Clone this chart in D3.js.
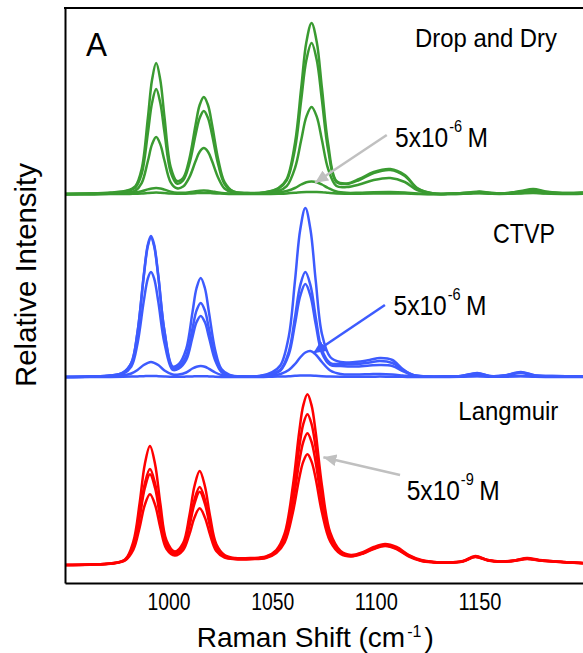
<!DOCTYPE html>
<html>
<head>
<meta charset="utf-8">
<script src="https://cdn.jsdelivr.net/npm/d3@7"></script>
<style>
  html, body { margin: 0; padding: 0; background: #fff; }
  svg { display: block; }
</style>
</head>
<body>
<script>
// Stacked Raman spectra: Drop and Dry / CTVP / Langmuir

// Drop and Dry (green) - wavenumbers and intensities (a.u., above own baseline)
const greenShift = [950, 962, 972, 980, 984, 987, 990, 992, 994, 996, 998, 1001, 1004, 1007, 1010, 1013, 1015, 1017, 1019, 1021, 1024, 1027, 1031, 1038, 1046, 1053, 1057, 1061, 1064, 1066.5, 1069, 1071.5, 1074, 1077, 1081, 1086, 1092, 1099, 1107, 1114, 1120, 1128, 1137, 1145, 1150, 1156, 1164, 1170, 1176, 1182, 1190, 1200];
const dropDry = [
  [0, 0.5, 1.5, 3.5, 8, 25, 76, 114, 131, 114, 77, 27, 13, 16, 35, 69, 89, 97, 89, 69, 34, 12, 3, 1, 1.5, 6, 15, 51, 106, 152, 171, 152, 106, 50, 13, 10.5, 15, 22, 25, 19, 6, 0.5, 0.5, 1.5, 2.5, 1, 1, 3, 5, 2.5, 1, 1.5],
  [0, 0.5, 1, 3, 6.5, 20, 61, 91, 105, 91, 62, 22, 10.5, 13.5, 30, 59, 76, 83, 76, 59, 29, 10, 2.5, 1, 1.5, 5.3, 13.6, 45, 94, 134, 151, 134, 94, 44, 12, 10, 14, 21, 24, 18, 5.5, 0.5, 0.5, 1.2, 2, 1, 1, 2.5, 4, 2, 1, 1.2],
  [0, 0.3, 0.8, 1.5, 3.4, 10.8, 33, 49.6, 57, 49.6, 33.5, 11.7, 5.7, 7.4, 16.6, 32.7, 42.3, 46, 42.3, 32.7, 16, 5.5, 1.5, 0.5, 1, 3, 7.8, 26, 54, 77.4, 87, 77.4, 54, 25, 8, 7, 9.5, 14, 16, 12, 4, 0.3, 0.3, 1, 1.5, 0.6, 0.6, 2, 3, 1.5, 0.6, 1],
  [0, 0, 0.3, 0.8, 1.5, 2.8, 4.6, 5.6, 6, 5.6, 4.4, 2.4, 1.3, 1.2, 1.8, 2.8, 3.3, 3.5, 3.3, 2.6, 1.5, 0.7, 0.3, 0.2, 0.5, 1.5, 3, 6, 9.5, 11.8, 12.5, 11.8, 9.5, 6, 2.5, 1.2, 1.3, 1.8, 2, 1.5, 0.5, 0, 0, 0.5, 1, 0.3, 0.3, 1, 1.5, 0.7, 0.3, 0.6],
  [-0.5, -0.5, 0, 0, 0.3, 0.5, 1, 1.3, 1.5, 1.3, 1, 0.5, 0.3, 0.3, 0.5, 0.8, 1, 1, 1, 0.8, 0.5, 0.2, 0, 0, 0, 0.3, 0.6, 1.2, 1.8, 2, 2, 2, 1.8, 1.2, 0.5, 0.3, 0.3, 0.5, 0.6, 0.4, 0, -0.3, 0, 0.5, 0.8, 0.2, 0.2, 0.6, 1, 0.4, 0, 0.3]
];

// CTVP (blue)
const blueShift = [950, 962, 972, 978, 982, 985, 988, 990, 991.5, 993, 995, 998, 1002, 1005, 1008.5, 1011.5, 1013.5, 1015.5, 1017.5, 1019.5, 1022.5, 1025.5, 1029.5, 1036, 1044, 1050, 1054, 1058, 1061, 1063.5, 1066, 1068.5, 1071, 1074, 1078, 1083, 1090, 1097, 1102, 1108, 1113, 1118, 1125, 1133, 1141, 1149, 1155, 1162, 1170, 1177, 1185, 1200];
const ctvp = [
  [0, 0.5, 1.5, 4.5, 14, 45, 101.5, 132.5, 141, 132.5, 102, 46, 10.5, 13, 28, 64.4, 89, 99, 89, 64.4, 26.7, 8, 2, 0.5, 1, 5, 11.8, 40.6, 96.3, 147, 169, 147, 96.3, 43, 20, 15, 15, 17, 19, 17, 8, 2, 0.5, 0.5, 1, 4, 1, 1.5, 5, 1.5, 1, 0.5],
  [0, 0.5, 1.5, 4.4, 14, 44.6, 100.4, 131, 139.5, 131, 100.8, 45.5, 9, 10.5, 21, 48.1, 66.6, 74, 66.6, 48.1, 20, 6, 1.5, 0.5, 1, 3.2, 7.4, 25.2, 59.9, 91.4, 105, 91.4, 59.9, 27, 14, 13, 13, 14.5, 16, 14, 7, 2, 0.5, 0.5, 1, 3.5, 1, 1.5, 4.5, 1.5, 1, 0.5],
  [0, 0.4, 1.2, 3.2, 10.5, 33.6, 75.6, 98.7, 105, 98.7, 75.6, 34, 7, 8.5, 17, 39.7, 54.9, 61, 54.9, 39.7, 16.5, 5, 1.2, 0.4, 0.8, 2.8, 6.5, 22.3, 53, 80.9, 93, 80.9, 53, 24, 12, 11, 10.5, 11.5, 12, 11, 6, 1.5, 0.4, 0.4, 0.8, 3, 0.8, 1.2, 4, 1.2, 0.8, 0.4],
  [0, 0.2, 0.5, 1.5, 3.5, 7, 12, 14.2, 15, 14.2, 12, 6.5, 2.5, 2.5, 4.5, 8.5, 10.3, 11, 10.3, 8.2, 4.5, 2, 0.7, 0.3, 0.5, 1.5, 3, 7, 13, 19.5, 24.5, 26, 22.5, 15, 6.5, 3, 2.5, 2.8, 3, 2.5, 1.5, 0.5, 0.3, 0.3, 0.3, 1, 0.3, 0.3, 1, 0.3, 0.3, 0.3],
  [0, 0, 0, 0.2, 0.4, 0.6, 0.8, 1, 1, 1, 0.8, 0.5, 0.2, 0.2, 0.4, 0.6, 0.8, 0.8, 0.8, 0.6, 0.3, 0.1, 0, 0, 0, 0.3, 0.5, 0.8, 1.2, 1.5, 1.5, 1.5, 1.2, 0.8, 0.4, 0.2, 0.2, 0.3, 0.4, 0.3, 0.2, 0, 0, 0, 0.2, 0.8, 0.2, 0.3, 0.8, 0.2, 0, 0]
];

// Langmuir (red)
const redShift = [950, 962, 972, 979, 983, 986, 988.5, 991, 993.5, 996, 999, 1003, 1007, 1010, 1012.5, 1015, 1017.5, 1020, 1023, 1027, 1032, 1040, 1047, 1052, 1056, 1060, 1063, 1065, 1067, 1069, 1071, 1074, 1078, 1083, 1088, 1094, 1099, 1104.5, 1110, 1116, 1122, 1128, 1135, 1142, 1148, 1154, 1160, 1167, 1173, 1179, 1187, 1200];
const langmuir = [
  [0, 0.5, 1.5, 5.5, 23.6, 61.5, 100.6, 119, 100.6, 61.5, 24.5, 13.5, 22, 49, 79, 94, 79, 49, 21, 10, 7, 7, 8.5, 15, 31.5, 79.5, 132.5, 159.6, 170.7, 159.6, 132.5, 79.5, 32.5, 14, 10, 13, 18, 21, 18, 10, 5, 3, 2.5, 4, 9, 5, 3.5, 4.5, 7, 5, 3.5, 2],
  [0, 0.5, 1.5, 5.2, 19.6, 50, 81.3, 96, 81.3, 50, 20.5, 12, 19, 41, 65.5, 78, 65.5, 41, 18, 9, 6.5, 6.5, 8, 14, 28.5, 70.6, 117, 140.8, 150.7, 140.8, 117, 70.6, 29.5, 13, 9.5, 12.5, 17, 20, 17, 9.5, 4.5, 3, 2.5, 3.8, 8.5, 5, 3.5, 4.5, 6.5, 4.8, 3.5, 2],
  [0, 0.4, 1.4, 5, 18.7, 47.4, 76.8, 90.7, 76.8, 47.4, 19.5, 11, 18, 38.7, 61.5, 73.3, 61.5, 38.7, 17, 8.5, 6.2, 6.2, 7.5, 13, 25.6, 62.2, 102.5, 123, 131.7, 123, 102.5, 62.2, 26.5, 12, 9, 12, 16.5, 19.5, 16.5, 9, 4.2, 2.8, 2.3, 3.6, 8.2, 4.8, 3.3, 4.3, 6.3, 4.6, 3.3, 1.8],
  [0, 0.3, 1.2, 4.5, 15.3, 37.4, 60, 70.7, 60, 37.4, 16, 9.5, 14.8, 30.4, 47.6, 56.7, 47.6, 30.4, 14, 7.5, 5.8, 5.8, 7, 12, 22.5, 52.8, 86.3, 103.4, 110.7, 103.4, 86.3, 52.8, 23.5, 11, 8.5, 11.5, 16, 19, 16, 8.5, 4, 2.6, 2.2, 3.4, 8, 4.6, 3.2, 4.2, 6, 4.4, 3.2, 1.8]
];

// vertical stacking offsets (a.u.)
const stackOffset = { green: 389, blue: 206, red: 18 };
const xTicks = [1000, 1050, 1100, 1150];

const W = 583, H = 653;
const margin = { top: 8, right: 0, bottom: 70, left: 65 };
const FONT = '"Liberation Sans", Arial, Helvetica, sans-serif';

const x = d3.scaleLinear().domain([950, 1200]).range([margin.left, W - margin.right]);
const y = d3.scaleLinear().domain([0, 575]).range([H - margin.bottom, margin.top]);

const svg = d3.select('body').append('svg')
  .attr('width', W)
  .attr('height', H)
  .attr('font-family', FONT);

const defs = svg.append('defs');
defs.append('clipPath')
  .attr('id', 'plot-clip')
  .append('rect')
  .attr('x', margin.left)
  .attr('y', margin.top)
  .attr('width', W - margin.left - margin.right)
  .attr('height', H - margin.top - margin.bottom);

const groups = [
  { shift: greenShift, traces: dropDry, offset: stackOffset.green, color: '#3a9b31' },
  { shift: blueShift, traces: ctvp, offset: stackOffset.blue, color: '#3d5bfe' },
  { shift: redShift, traces: langmuir, offset: stackOffset.red, color: '#ff0000' }
];

const line = d3.line()
  .x(d => x(d[0]))
  .y(d => y(d[1]))
  .curve(d3.curveCatmullRom);

const spectra = svg.append('g').attr('clip-path', 'url(#plot-clip)');
groups.forEach(g => {
  spectra.append('g')
    .selectAll('path')
    .data(g.traces.slice().reverse())
    .join('path')
    .attr('d', tr => line(tr.map((v, i) => [g.shift[i], v + g.offset])))
    .attr('fill', 'none')
    .attr('stroke', g.color)
    .attr('stroke-width', 2.5)
    .attr('stroke-linejoin', 'round');
});

// Frame: left, bottom and top lines (right side falls off the image)
svg.append('g')
  .attr('transform', `translate(0,${H - margin.bottom})`)
  .call(d3.axisBottom(x).tickValues(xTicks).tickFormat(d3.format('d'))
    .tickSize(0).tickSizeOuter(0).tickPadding(11))
  .call(g => g.select('.domain').attr('stroke-width', 2))
  .call(g => g.selectAll('text')
    .attr('font-family', FONT)
    .attr('font-size', 23)
    .attr('fill', '#000')
    .attr('textLength', 43)
    .attr('lengthAdjust', 'spacingAndGlyphs'));

svg.append('g')
  .attr('transform', `translate(${margin.left},0)`)
  .call(d3.axisLeft(y).tickValues([]).tickSizeOuter(0))
  .call(g => g.select('.domain').attr('stroke-width', 2));

svg.append('line')
  .attr('x1', margin.left - 1).attr('x2', W)
  .attr('y1', margin.top).attr('y2', margin.top)
  .attr('stroke', '#000')
  .attr('stroke-width', 2);

// Arrows (data coords)
const arrows = [
  { from: [1105.3, 448], to: [1070.7, 400.3], color: '#c0c0c0' },
  { from: [1104.4, 278], to: [1069.8, 229.7], color: '#3d5bfe' },
  { from: [1111.7, 108], to: [1074.7, 125.7], color: '#c0c0c0' }
];

arrows.forEach((a, i) => {
  defs.append('marker')
    .attr('id', `head-${i}`)
    .attr('markerUnits', 'userSpaceOnUse')
    .attr('markerWidth', 14)
    .attr('markerHeight', 12)
    .attr('refX', 13)
    .attr('refY', 6)
    .attr('orient', 'auto')
    .append('path')
    .attr('d', 'M0,0 L13,6 L0,12 Z')
    .attr('fill', a.color);
});

svg.append('g')
  .selectAll('line')
  .data(arrows)
  .join('line')
  .attr('x1', d => x(d.from[0]))
  .attr('y1', d => y(d.from[1]))
  .attr('x2', d => x(d.to[0]))
  .attr('y2', d => y(d.to[1]))
  .attr('stroke', d => d.color)
  .attr('stroke-width', 2.5)
  .attr('marker-end', (d, i) => `url(#head-${i})`);

// Text labels
function label(txt, px, py, size, len) {
  const t = svg.append('text')
    .attr('x', px)
    .attr('y', py)
    .attr('font-size', size)
    .attr('fill', '#000')
    .text(txt);
  if (len) t.attr('textLength', len).attr('lengthAdjust', 'spacingAndGlyphs');
  return t;
}

// concentration label: "5x10" + superscript exponent + "M", squeezed like the original
function concLabel(exp, px, py) {
  const t = svg.append('text')
    .attr('transform', `translate(${px},${py}) scale(0.91,1)`)
    .attr('font-size', 27)
    .attr('fill', '#000');
  t.append('tspan').text('5x10');
  t.append('tspan').attr('dx', 1).attr('dy', -15).attr('font-size', 16).text(exp);
  t.append('tspan').attr('dx', 6).attr('dy', 15).text('M');
}

label('A', 86, 56, 33, 21);
label('Drop and Dry', 415, 46.7, 25.5, 142);
concLabel('-6', 395, 146.7);
label('CTVP', 493, 243.3, 27.5, 62);
concLabel('-6', 393.5, 315);
label('Langmuir', 458.3, 420, 25.5, 100);
concLabel('-9', 406.7, 500);

// axis titles
svg.append('text')
  .attr('transform', 'translate(36,275) rotate(-90)')
  .attr('font-size', 29)
  .attr('text-anchor', 'middle')
  .attr('textLength', 224)
  .attr('lengthAdjust', 'spacingAndGlyphs')
  .text('Relative Intensity');

const xTitle = svg.append('text')
  .attr('x', 196.7)
  .attr('y', 646.7)
  .attr('font-size', 28)
  .attr('fill', '#000');
xTitle.append('tspan').text('Raman Shift (cm');
xTitle.append('tspan').attr('dx', 2).attr('dy', -10).attr('font-size', 16).text('-1');
xTitle.append('tspan').attr('dx', 3).attr('dy', 10).text(')');
</script>
</body>
</html>
